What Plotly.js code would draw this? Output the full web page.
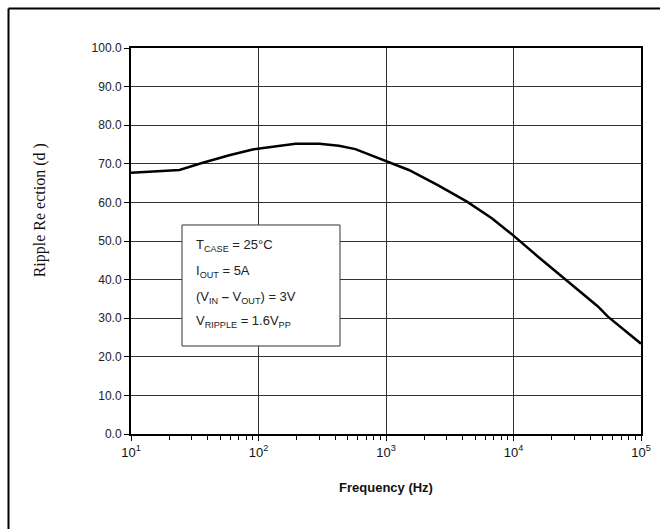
<!DOCTYPE html>
<html>
<head>
<meta charset="utf-8">
<script src="https://cdn.plot.ly/plotly-3.0.1.min.js"></script>
<style>html,body{margin:0;padding:0;background:#fff;}#chart{width:660px;height:529px;}</style>
</head>
<body>
<div id="chart"></div>
<script>
const freqHz = [10, 15.7, 24, 36, 59, 90, 136, 195, 300, 427, 575, 1000, 1510, 2570, 4315, 6760, 10000, 15500, 26300, 45700, 55000, 100000];
const rejectionDb = [67.7, 68.0, 68.4, 70.2, 72.2, 73.7, 74.5, 75.2, 75.2, 74.7, 73.8, 70.7, 68.4, 64.4, 60.2, 55.9, 51.4, 46.0, 39.7, 33.1, 30.4, 23.4];
const xTickVals = [10, 100, 1000, 10000, 100000];
const xTickText = ['10<sup>1</sup>', '10<sup>2</sup>', '10<sup>3</sup>', '10<sup>4</sup>', '10<sup>5</sup>'];
const yTickVals = [0, 10, 20, 30, 40, 50, 60, 70, 80, 90, 100];
const conditionLines = [
  'T<sub>CASE</sub> = 25°C',
  'I<sub>OUT</sub> = 5A',
  '(V<sub>IN</sub> <b>–</b> V<sub>OUT</sub>) = 3V',
  'V<sub>RIPPLE</sub> = 1.6V<sub>PP</sub>'
];
const yTitle = 'Ripple Re ection (d )';
const xTitle = '<b>Frequency (Hz)</b>';

const lineY = [0.4896, 0.4205, 0.3549, 0.2909];
const annotations = conditionLines.map((t, i) => ({
  text: t, xref: 'paper', yref: 'paper', x: 0.1235, y: lineY[i],
  xanchor: 'left', yanchor: 'middle', showarrow: false,
  font: {family: 'Liberation Sans, Arial, sans-serif', size: 13, color: '#222'}
}));
annotations.push({
  text: yTitle, xref: 'paper', yref: 'paper', x: -0.178, y: 0.58,
  xanchor: 'center', yanchor: 'middle', textangle: -90, showarrow: false,
  font: {family: 'Liberation Serif, Times New Roman, serif', size: 16, color: '#111'}
});

const trace = {
  x: freqHz, y: rejectionDb, type: 'scatter', mode: 'lines',
  line: {color: '#000', width: 2.5}, hoverinfo: 'skip'
};

const layout = {
  width: 660, height: 529,
  margin: {l: 131, r: 19, t: 48, b: 95, pad: 0},
  paper_bgcolor: '#fff', plot_bgcolor: '#fff',
  showlegend: false,
  font: {family: 'Liberation Sans, Arial, sans-serif', size: 12, color: '#222'},
  xaxis: {
    type: 'log', range: [1, 5],
    tickvals: xTickVals, ticktext: xTickText,
    ticks: 'outside', ticklen: 5, tickwidth: 1, tickcolor: '#000',
    showgrid: true, gridcolor: '#333', gridwidth: 1,
    showline: true, linecolor: '#000', linewidth: 2, mirror: true,
    zeroline: false,
    tickfont: {family: 'Liberation Sans, Arial, sans-serif', size: 13, color: '#111'},
    minor: {ticks: 'outside', ticklen: 4, tickcolor: '#000', tickwidth: 1, showgrid: false, dtick: 'D1'},
    title: {text: xTitle, standoff: 24, font: {family: 'Liberation Sans, Arial, sans-serif', size: 13, color: '#111'}}
  },
  yaxis: {
    range: [0, 100], tickvals: yTickVals, tickformat: '.1f',
    ticks: 'outside', ticklen: 5, tickwidth: 1, tickcolor: '#000',
    showgrid: true, gridcolor: '#333', gridwidth: 1,
    showline: true, linecolor: '#000', linewidth: 2, mirror: true,
    zeroline: false,
    tickfont: {family: 'Liberation Sans, Arial, sans-serif', size: 12, color: '#222'}
  },
  shapes: [
    {type: 'rect', xref: 'paper', yref: 'paper', x0: 0.1, x1: 0.4098, y0: 0.228, y1: 0.5415,
     line: {color: '#333', width: 1}, fillcolor: '#fff', layer: 'above'},
    {type: 'line', xref: 'paper', yref: 'paper', x0: -0.2402, x1: 1.04, y0: 1.1023, y1: 1.1023,
     line: {color: '#000', width: 2}},
    {type: 'line', xref: 'paper', yref: 'paper', x0: -0.2402, x1: -0.2402, y0: 1.1023, y1: -0.25,
     line: {color: '#000', width: 2}}
  ],
  annotations: annotations
};

Plotly.newPlot('chart', [trace], layout, {staticPlot: true, displayModeBar: false});
</script>
</body>
</html>
